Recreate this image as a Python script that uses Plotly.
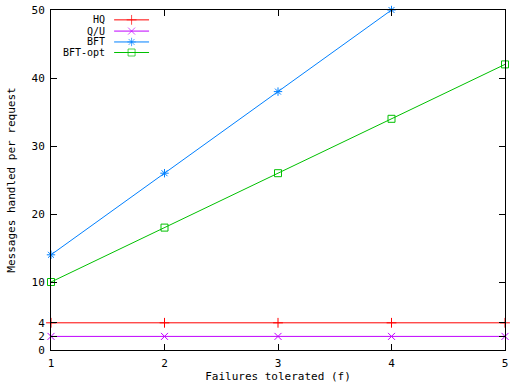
import plotly.graph_objects as go

# ---- data ----
f_all = [1, 2, 3, 4, 5]
f_bft = [1, 2, 3, 4]
hq = [4, 4, 4, 4, 4]
qu = [2, 2, 2, 2, 2]
bft = [14, 26, 38, 50]
bft_opt = [10, 18, 26, 34, 42]
series_names = ["HQ", "Q/U", "BFT", "BFT-opt"]
y_ticks = [0, 2, 4, 10, 20, 30, 40, 50]
x_ticks = [1, 2, 3, 4, 5]

colors = ["#ff0000", "#c000ff", "#0080ff", "#00c000"]
symbols = ["cross-thin-open", "x-thin-open", "asterisk-open", "square-open"]
FONT = "DejaVu Sans Mono"
MSIZE = 7

fig = go.Figure()
series = [(f_all, hq), (f_all, qu), (f_bft, bft), (f_all, bft_opt)]
for (xs, ys), c, s, n in zip(series, colors, symbols, series_names):
    fig.add_trace(go.Scatter(
        x=xs, y=ys, mode="lines+markers", name=n,
        line=dict(color=c, width=1),
        marker=dict(symbol=s, size=MSIZE, color=c, line=dict(color=c, width=1)),
        cliponaxis=False, showlegend=False,
    ))

# ---- custom gnuplot-style key (text right-aligned, sample to the right) ----
key_rows = [0.971, 0.938, 0.906, 0.875]
key_text_x = 0.123
key_line = (0.139, 0.216)
for n, c, s, ky in zip(series_names, colors, symbols, key_rows):
    fig.add_annotation(x=key_text_x, y=ky, xref="paper", yref="paper",
                       text=n, showarrow=False, xanchor="right", yanchor="middle",
                       font=dict(family=FONT, size=10, color="black"))
    fig.add_trace(go.Scatter(
        x=[key_line[0], (key_line[0] + key_line[1]) / 2, key_line[1]],
        y=[ky, ky, ky], xaxis="x2", yaxis="y2",
        mode="lines+markers",
        line=dict(color=c, width=1),
        marker=dict(symbol=s, size=[0, MSIZE, 0], color=c, line=dict(color=c, width=1)),
        showlegend=False, hoverinfo="skip",
    ))

axis_common = dict(
    showline=True, linecolor="black", linewidth=1, mirror="ticks",
    ticks="inside", ticklen=6, tickcolor="black", tickwidth=1,
    showgrid=False, zeroline=False, automargin=False,
    tickfont=dict(family=FONT, size=11, color="black"),
)

fig.update_layout(
    width=512, height=384,
    margin=dict(l=51, r=7, t=10, b=34),
    paper_bgcolor="white", plot_bgcolor="white",
    font=dict(family=FONT, size=11, color="black"),
    xaxis=dict(range=[1, 5], tickvals=x_ticks, ticklabelstandoff=3, **axis_common,
               title=dict(text="Failures tolerated (f)", standoff=2,
                          font=dict(family=FONT, size=11))),
    yaxis=dict(range=[0, 50], tickvals=y_ticks, ticklabelstandoff=3, **axis_common,
               title=dict(text="Messages handled per request", standoff=13,
                          font=dict(family=FONT, size=11))),
    xaxis2=dict(overlaying="x", range=[0, 1], visible=False),
    yaxis2=dict(overlaying="y", range=[0, 1], visible=False),
    showlegend=False,
)

fig.write_html("out.html", config={"displayModeBar": False})

# remove default page margin so the figure fills the 512x384 window
with open("out.html", "r", encoding="utf-8") as fh:
    html = fh.read()
html = html.replace("<head>", "<head><style>html,body{margin:0;padding:0;overflow:hidden;}</style>", 1)
with open("out.html", "w", encoding="utf-8") as fh:
    fh.write(html)
